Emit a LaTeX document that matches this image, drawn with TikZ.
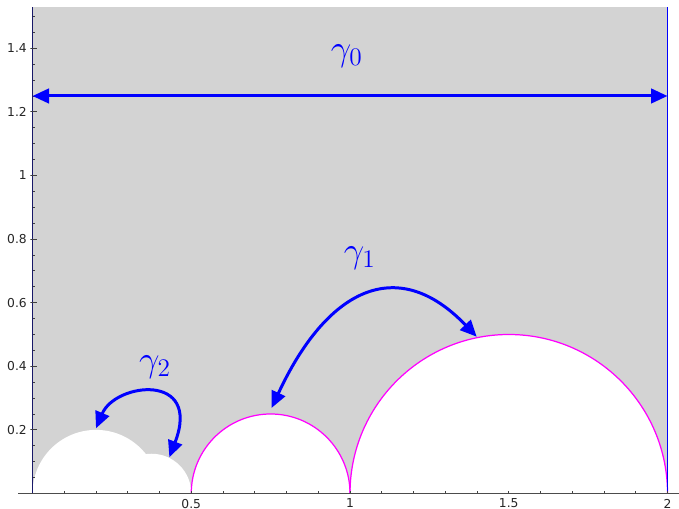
\documentclass[tikz,border=0pt]{standalone}
\usepackage{fontspec}
\newfontfamily\tickfont{DejaVu Sans}
\usetikzlibrary{arrows.meta}
\definecolor{domaingray}{RGB}{211,211,211}
\definecolor{axisnavy}{RGB}{25,25,105}
\definecolor{arcmagenta}{RGB}{255,0,255}
\definecolor{pairblue}{RGB}{0,0,255}
\tikzset{
  gen/.style={pairblue,line width=1.7pt,
    {Triangle[length=0.33cm,width=0.29cm]}-{Triangle[length=0.33cm,width=0.29cm]}},
  genlabel/.style={pairblue,font=\huge,inner sep=0pt},
  ticklabel/.style={font=\tickfont\fontsize{7}{8}\selectfont,text=black!85,inner sep=0pt},
  tickline/.style={black!75,line width=0.5pt}
}
\begin{document}
\begin{tikzpicture}[x=6.35cm,y=6.36cm]
  \useasboundingbox (-0.1024,-0.0487) rectangle (2.0362,1.5519);
  % domain and the removed half discs
  \fill[domaingray] (0,0) rectangle (2,1.53);
  \fill[white] (0,0) arc[start angle=180,end angle=0,radius=0.2];
  \fill[white] (0.25,0) arc[start angle=180,end angle=0,radius=0.125];
  \fill[white] (0.5,0) arc[start angle=180,end angle=0,radius=0.25];
  \fill[white] (1,0) arc[start angle=180,end angle=0,radius=0.5];
  \draw[arcmagenta,line width=0.7pt] (0.5,0) arc[start angle=180,end angle=0,radius=0.25];
  \draw[arcmagenta,line width=0.7pt] (1,0) arc[start angle=180,end angle=0,radius=0.5];
  \draw[pairblue,line width=1pt] (2,0) -- (2,1.53);
  % axes
  \draw[black!70,line width=0.7pt] (-0.0457,0) -- (2.0362,0);
  \draw[axisnavy,line width=0.8pt] (0,0) -- (0,1.53);
  \foreach \i in {1,...,20} \draw[tickline] (\i/10,0) -- ++(0pt,1.7pt);
  \foreach \i in {1,...,30} \draw[tickline] (0,\i/20) -- ++(1.7pt,0pt);
  \foreach \i in {1,...,7} \draw[tickline] (0,\i/5) -- ++(-1.2pt,0pt) -- ++(4pt,0pt);
  \foreach \v [count=\i] in {0.5,1,1.5,2}
    \node[ticklabel,anchor=north] (xlab\i) at (\v,-0.016) {\v};
  \foreach \v [count=\i] in {0.2,0.4,0.6,0.8,1,1.2,1.4}
    \node[ticklabel,anchor=east] (ylab\i) at (-0.017,\v) {\v};
  % side pairings
  \coordinate (g0l) at (0,1.25);
  \coordinate (g0r) at (2,1.25);
  \coordinate (g1a) at (0.753,0.269);
  \coordinate (g1b) at (1.399,0.493);
  \coordinate (g2a) at (0.2,0.205);
  \coordinate (g2b) at (0.431,0.114);
  \draw[gen] (g0l) -- (g0r);
  \draw[gen] (g1a) .. controls (0.924,0.637) and (1.145,0.758) .. (g1b);
  \draw[gen] (g2a) .. controls (0.261,0.349) and (0.534,0.382) .. (g2b);
  \node[genlabel] (g0lab) at (0.99,1.376) {$\gamma_0$};
  \node[genlabel] (g1lab) at (1.031,0.741) {$\gamma_1$};
  \node[genlabel] (g2lab) at (0.386,0.398) {$\gamma_2$};
\end{tikzpicture}
\end{document}
